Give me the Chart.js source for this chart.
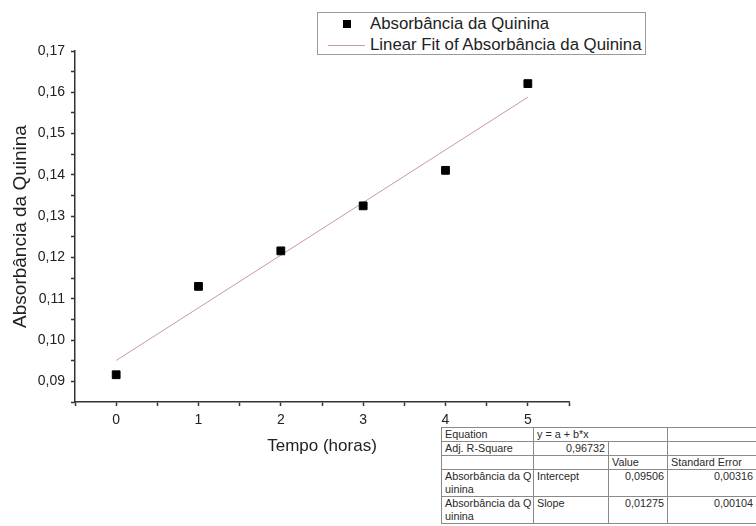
<!DOCTYPE html>
<html>
<head>
<meta charset="utf-8">
<script src="https://cdn.jsdelivr.net/npm/chart.js@4.4.1/dist/chart.umd.min.js"></script>
<style>
  body { margin: 0; background: #fff; overflow: hidden; }
  #wrap { position: relative; width: 756px; height: 526px; overflow: hidden;
          font-family: "Liberation Sans", Arial, sans-serif; }
  #legend { position: absolute; left: 317px; top: 12px; width: 327px; height: 41px;
            border: 1px solid #9a9a9a; background: #fff; color: #222; font-size: 16.8px; }
  #legend .txt { position: absolute; left: 52px; line-height: 20px; white-space: nowrap; }
  #legend .sq { position: absolute; left: 25px; top: 7px; width: 8px; height: 8px; background: #000; }
  #legend .ln { position: absolute; left: 10px; top: 32px; width: 37px; height: 1px; background: #c99a9a; }
  #fitTable { position: absolute; left: 441px; top: 427px; width: 326px; border-collapse: collapse;
              table-layout: fixed; font-size: 10.8px; color: #2a2a2a; background: #fff; }
  #fitTable td { border: 1px solid #8a8a8a; padding: 0 3px; line-height: 13px; height: 13px;
                 vertical-align: top; white-space: nowrap; overflow: hidden; }
  #fitTable td:first-child { padding-right: 0; }
  #fitTable td.num { text-align: right; }
</style>
</head>
<body>
<div id="wrap">
  <canvas id="grafico" width="756" height="526"></canvas>
  <div id="legend">
    <div class="sq"></div>
    <div class="txt" id="leg1" style="top:1px"></div>
    <div class="ln"></div>
    <div class="txt" id="leg2" style="top:22px"></div>
  </div>
  <table id="fitTable"></table>
</div>
<script>
// dados
const tempo = [0, 1, 2, 3, 4, 5];
const absorbancia = [0.0916, 0.1130, 0.1216, 0.1325, 0.1411, 0.1621];

// extremos da reta ajustada
const fitTempo = [0, 5];
const fitAbs = [0.09506, 0.15881];

// tabela do ajuste
const serieNome = "Absorbância da Quinina";
const equacao = "y = a + b*x";
const adjR2 = 0.96732;
const parametros = ["Intercept", "Slope"];
const valores = [0.09506, 0.01275];
const erros = [0.00316, 0.00104];

const fonte = "'Liberation Sans', Arial, sans-serif";

function virgula(v, casas) {
  return v.toFixed(casas).replace(".", ",");
}

const pontos = tempo.map((t, i) => ({ x: t, y: absorbancia[i] }));
const reta = fitTempo.map((t, i) => ({ x: t, y: fitAbs[i] }));

new Chart(document.getElementById("grafico"), {
  type: "scatter",
  data: {
    datasets: [
      {
        label: serieNome,
        data: pontos,
        pointStyle: "rect",
        pointRadius: 5.5,
        pointBackgroundColor: "#000",
        pointBorderColor: "#000",
        pointBorderWidth: 1,
        showLine: false,
      },
      {
        label: "Linear Fit of " + serieNome,
        data: reta,
        showLine: true,
        pointRadius: 0,
        borderColor: "#c99a9a",
        borderWidth: 1,
      },
    ],
  },
  options: {
    responsive: false,
    animation: false,
    layout: { padding: { left: 0, right: 187, top: 51, bottom: 0 } },
    plugins: {
      legend: { display: false },
      tooltip: { enabled: false },
    },
    scales: {
      x: {
        type: "linear",
        min: -0.5,
        max: 5.5,
        afterFit: (scale) => { scale.height = 124; },
        border: { display: true, color: "#333", width: 1.5 },
        grid: { drawOnChartArea: false, drawTicks: true, tickLength: 4, color: "#333", tickWidth: 1.5 },
        ticks: {
          stepSize: 0.5,
          autoSkip: false,
          maxRotation: 0,
          padding: 6,
          color: "#222",
          font: { family: fonte, size: 14 },
          callback: (v) => (Number.isInteger(v) ? String(v) : ""),
        },
        title: {
          display: true,
          text: "Tempo (horas)",
          color: "#222",
          font: { family: fonte, size: 17 },
          padding: { top: 0, bottom: 69 },
        },
      },
      y: {
        type: "linear",
        min: 0.085,
        max: 0.17,
        afterFit: (scale) => { scale.width = 75; },
        border: { display: true, color: "#333", width: 1.5 },
        grid: { drawOnChartArea: false, drawTicks: true, tickLength: 4, color: "#333", tickWidth: 1.5 },
        ticks: {
          stepSize: 0.005,
          autoSkip: false,
          padding: 6,
          color: "#222",
          font: { family: fonte, size: 14 },
          callback: (v) => (Math.round(v * 1000) % 10 === 0 ? virgula(v, 2) : ""),
        },
        title: {
          display: true,
          text: "Absorbância da Quinina",
          color: "#222",
          font: { family: fonte, size: 19 },
          padding: { top: 9, bottom: 0 },
        },
      },
    },
  },
});

document.getElementById("leg1").textContent = serieNome;
document.getElementById("leg2").textContent = "Linear Fit of " + serieNome;

// tabela do Origin
let html = "<colgroup><col style='width:92px'><col style='width:75px'><col style='width:59px'><col style='width:100px'></colgroup>";
html += "<tr><td>Equation</td><td colspan='2'>" + equacao + "</td><td></td></tr>";
html += "<tr><td>Adj. R-Square</td><td class='num'>" + virgula(adjR2, 5) + "</td><td></td><td></td></tr>";
html += "<tr><td></td><td></td><td>Value</td><td>Standard Error</td></tr>";
parametros.forEach((p, i) => {
  html += "<tr><td style='height:26px'>Absorbância da Q<br>uinina</td><td>" + p +
    "</td><td class='num'>" + virgula(valores[i], 5) + "</td><td class='num' style='padding-right:14px'>" +
    virgula(erros[i], 5) + "</td></tr>";
});
document.getElementById("fitTable").innerHTML = html;
</script>
</body>
</html>
